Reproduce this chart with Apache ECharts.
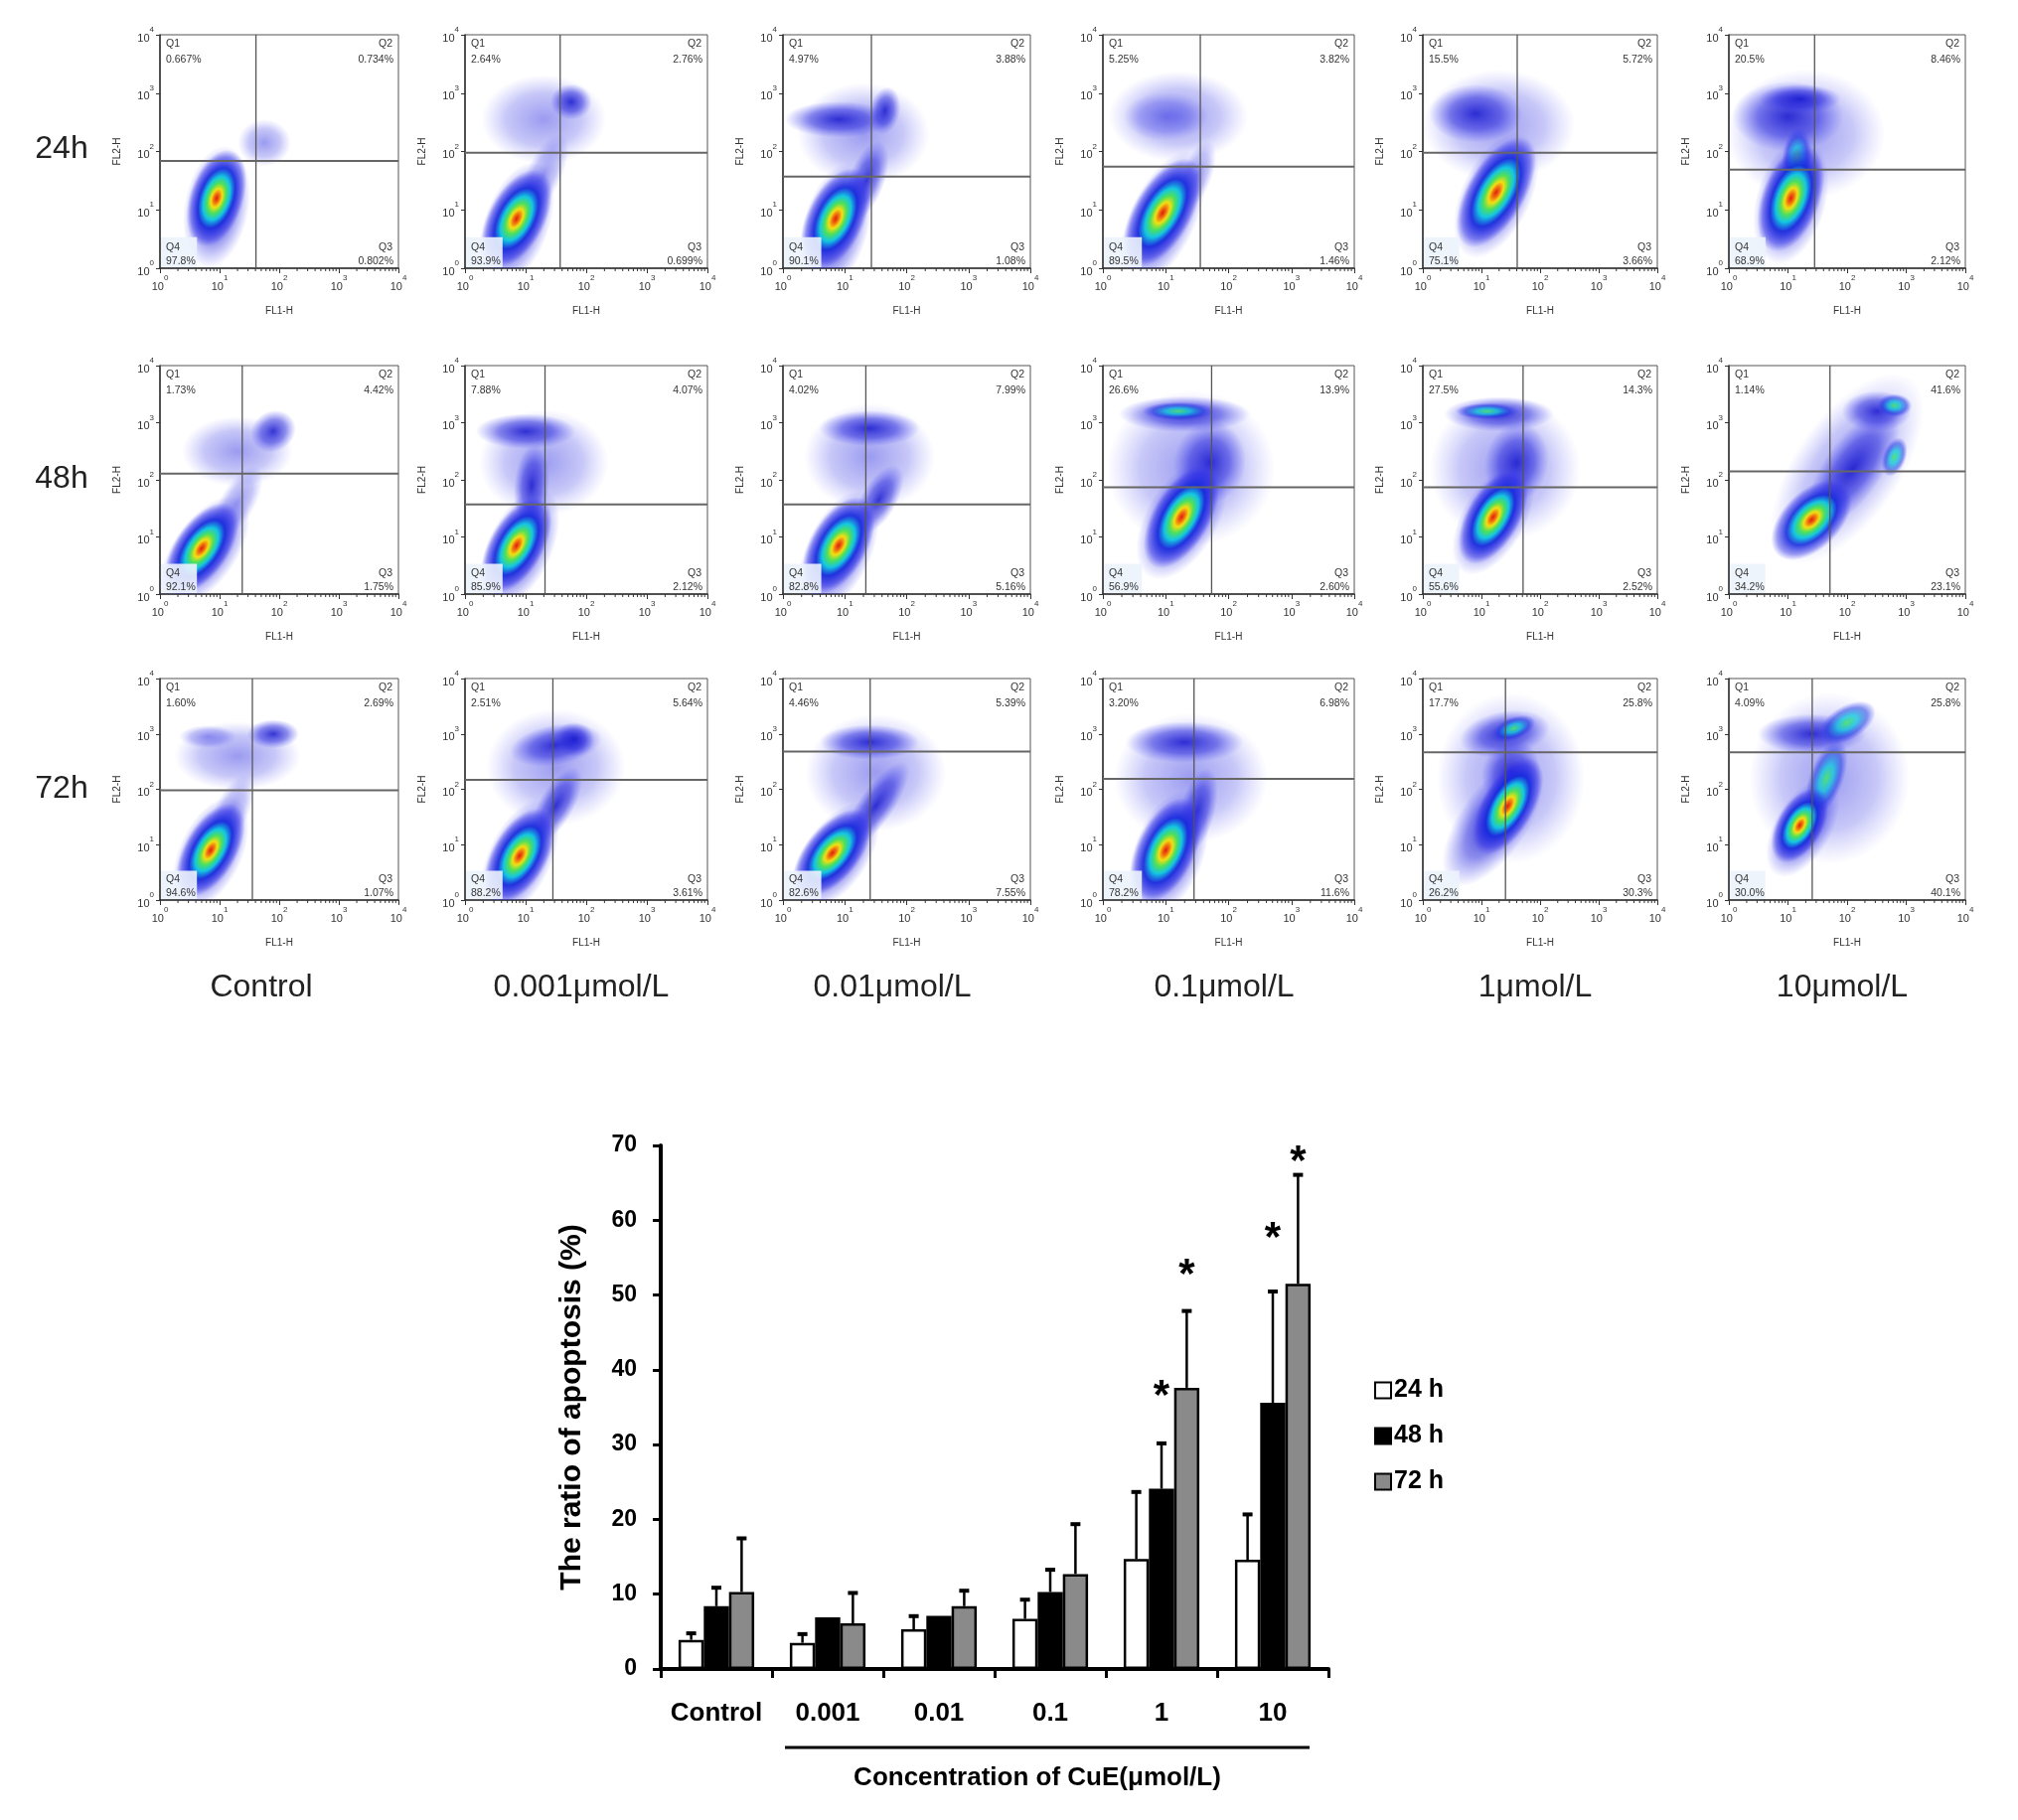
<!DOCTYPE html>
<html><head><meta charset="utf-8">
<script src="https://cdn.jsdelivr.net/npm/echarts@6/dist/echarts.min.js"></script>
<style>html,body{margin:0;padding:0;background:#fff}#c{width:2031px;height:1832px}</style>
</head><body><div id="c"></div>
<script>
// ---------------- DATA ----------------
const rowLabels = ['24h', '48h', '72h'];
const colLabels = ['Control', '0.001μmol/L', '0.01μmol/L', '0.1μmol/L', '1μmol/L', '10μmol/L'];
const decadeTicks = [0, 1, 2, 3, 4]; // 10^0 ... 10^4

// quadrant percentages [row][col]
const q1Pct = [['0.667%','2.64%','4.97%','5.25%','15.5%','20.5%'],
               ['1.73%','7.88%','4.02%','26.6%','27.5%','1.14%'],
               ['1.60%','2.51%','4.46%','3.20%','17.7%','4.09%']];
const q2Pct = [['0.734%','2.76%','3.88%','3.82%','5.72%','8.46%'],
               ['4.42%','4.07%','7.99%','13.9%','14.3%','41.6%'],
               ['2.69%','5.64%','5.39%','6.98%','25.8%','25.8%']];
const q3Pct = [['0.802%','0.699%','1.08%','1.46%','3.66%','2.12%'],
               ['1.75%','2.12%','5.16%','2.60%','2.52%','23.1%'],
               ['1.07%','3.61%','7.55%','11.6%','30.3%','40.1%']];
const q4Pct = [['97.8%','93.9%','90.1%','89.5%','75.1%','68.9%'],
               ['92.1%','85.9%','82.8%','56.9%','55.6%','34.2%'],
               ['94.6%','88.2%','82.6%','78.2%','26.2%','30.0%']];
// gate positions (log10 of FL1-H / FL2-H)
const gateX = [[1.61,1.57,1.43,1.55,1.61,1.45],[1.38,1.32,1.34,1.73,1.71,1.71],[1.55,1.45,1.41,1.45,1.41,1.41]];
const gateY = [[1.84,1.98,1.57,1.74,1.98,1.69],[2.11,1.57,1.57,1.87,1.87,2.15],[1.98,2.17,2.68,2.19,2.67,2.67]];

// cell populations: [log FL1, log FL2, spread a, spread b, tilt deg, density level]
const pops24 = [
  [[1.75,2.15,0.45,0.4,0,0],[0.95,1.05,1.05,0.55,80,1],[0.95,1.2,0.85,0.46,72,3]],
  [[1.3,2.55,1.05,0.75,0,0],[1.75,2.85,0.35,0.3,0,1],[1.3,1.6,0.75,0.3,65,0],[0.85,0.75,1.1,0.55,70,1],[0.85,0.85,0.9,0.48,62,3]],
  [[1.3,2.3,1.1,0.85,0,0],[0.9,2.55,0.9,0.3,0,1],[1.65,2.7,0.4,0.25,80,1],[1.35,1.5,0.7,0.3,70,1],[0.85,0.7,1.1,0.55,75,1],[0.85,0.85,0.9,0.48,65,3]],
  [[1.2,2.6,1.15,0.75,0,0],[1.0,2.6,0.7,0.4,0,0],[1.5,1.6,0.6,0.25,70,0],[0.95,0.85,1.2,0.55,65,1],[0.95,0.95,1.0,0.48,60,3]],
  [[1.3,2.45,1.3,0.95,0,0],[0.9,2.65,0.8,0.5,0,1],[1.25,1.25,1.15,0.6,65,1],[1.25,1.3,1.05,0.5,60,3]],
  [[1.3,2.3,1.35,1.1,0,0],[1.0,2.6,0.95,0.6,0,1],[1.2,2.9,0.7,0.25,0,1],[1.15,1.9,0.5,0.25,85,2],[1.05,1.15,1.1,0.6,75,1],[1.05,1.2,0.95,0.5,70,3]]
];
const pops48 = [
  [[1.3,2.5,0.95,0.6,0,0],[1.9,2.85,0.4,0.35,30,1],[1.3,1.6,0.7,0.3,60,0],[0.75,0.75,1.1,0.55,55,1],[0.7,0.8,0.9,0.46,55,3]],
  [[1.3,2.3,1.1,0.9,0,0],[1.0,2.85,0.85,0.3,0,1],[1.1,1.9,0.7,0.3,85,1],[0.9,0.8,1.1,0.55,65,1],[0.85,0.85,0.9,0.46,60,3]],
  [[1.4,2.4,1.1,0.9,0,0],[1.4,2.9,0.85,0.3,0,1],[1.55,1.65,0.65,0.3,60,1],[0.9,0.75,1.1,0.55,65,1],[0.9,0.85,0.9,0.48,60,3]],
  [[1.4,2.2,1.4,1.3,0,0],[1.7,2.3,0.7,0.6,80,1],[1.3,3.15,1.1,0.3,0,1],[1.2,3.2,0.6,0.15,0,2],[1.25,1.3,1.1,0.6,60,1],[1.25,1.35,0.95,0.48,60,3]],
  [[1.4,2.2,1.3,1.25,0,0],[1.6,2.3,0.7,0.55,80,1],[1.3,3.15,0.95,0.3,0,1],[1.1,3.2,0.55,0.14,0,2],[1.2,1.3,1.05,0.55,60,1],[1.2,1.35,0.9,0.46,60,3]],
  [[2.0,2.2,1.9,0.9,55,0],[2.1,2.2,1.2,0.5,55,1],[2.5,3.2,0.6,0.35,0,1],[2.8,3.3,0.3,0.2,0,2],[2.8,2.4,0.35,0.2,70,2],[1.4,1.3,0.85,0.5,45,3]]
];
const pops72 = [
  [[1.3,2.6,1.1,0.6,0,0],[1.9,3.0,0.45,0.25,0,1],[0.8,2.95,0.5,0.2,0,0],[1.2,1.6,0.7,0.3,65,0],[0.85,0.85,1.05,0.55,65,1],[0.85,0.9,0.9,0.46,60,3]],
  [[1.5,2.4,1.2,1.0,0,0],[1.5,2.8,0.8,0.35,10,1],[1.8,2.9,0.35,0.3,0,1],[1.5,1.7,0.75,0.3,60,1],[0.9,0.75,1.1,0.55,65,1],[0.9,0.8,0.9,0.48,60,3]],
  [[1.5,2.3,1.2,1.0,0,0],[1.4,2.85,0.85,0.3,0,1],[1.5,1.7,0.9,0.3,55,1],[0.85,0.8,1.05,0.55,55,1],[0.8,0.85,0.9,0.46,50,3]],
  [[1.4,2.2,1.3,1.1,0,0],[1.3,2.85,1.0,0.35,0,1],[1.5,1.6,0.75,0.3,75,1],[1.05,0.85,1.1,0.6,70,1],[1.0,0.9,0.95,0.5,65,3]],
  [[1.5,2.2,1.3,1.5,0,0],[1.4,3.0,0.8,0.4,10,1],[1.55,3.1,0.4,0.2,20,2],[1.5,2.3,0.6,0.5,70,1],[1.2,1.4,1.3,0.6,55,1],[1.45,1.7,0.95,0.46,60,3]],
  [[1.7,2.2,1.4,1.5,0,0],[1.4,3.0,0.95,0.35,0,1],[2.0,3.2,0.55,0.3,30,2],[1.65,2.2,0.7,0.3,70,2],[1.25,1.3,0.95,0.5,60,1],[1.2,1.35,0.72,0.4,60,3]]
];
const popsByRow = [pops24, pops48, pops72];

// bar chart
const barCats = ['Control', '0.001', '0.01', '0.1', '1', '10'];
const seriesNames = ['24 h', '48 h', '72 h'];
const h24 = [3.9, 3.5, 5.3, 6.7, 14.7, 14.6];
const h48 = [8.4, 6.9, 7.1, 10.3, 24.1, 35.6];
const h72 = [10.3, 6.1, 8.4, 12.7, 37.6, 51.5];
const sd24 = [1.0, 1.3, 1.9, 2.7, 9.1, 6.2];
const sd48 = [2.6, 0, 0, 3.1, 6.2, 15.0];
const sd72 = [7.3, 4.2, 2.2, 6.8, 10.4, 14.7];
const star48 = [null, null, null, null, 37.6, 58.7];
const star72 = [null, null, null, null, 53.8, 68.9];
const yTicks = {min: 0, max: 70, step: 10};

// ---------------- LAYOUT / STYLE ----------------
const FONT = "'Liberation Sans', Arial, Helvetica, sans-serif";
const rowTop = [35, 368, 683], rowBot = [270, 598, 906];
const colL = [161, 468, 788, 1110, 1432, 1740], colR = [401, 712, 1037, 1363, 1668, 1978];
const levelStops = [
  [[0,'rgba(45,45,225,0.48)'],[0.6,'rgba(55,55,230,0.28)'],[1,'rgba(90,90,250,0)']],
  [[0,'rgba(20,20,205,0.85)'],[0.55,'rgba(35,35,220,0.52)'],[1,'rgba(70,70,245,0)']],
  [[0,'rgba(80,225,110,0.95)'],[0.35,'rgba(20,200,225,0.8)'],[0.7,'rgba(30,60,225,0.55)'],[1,'rgba(60,60,250,0)']],
  [[0,'#e0200c'],[0.09,'#f06a10'],[0.19,'#f2df12'],[0.31,'#4ee05a'],[0.45,'#14c6e2'],[0.62,'rgba(20,40,220,0.88)'],[0.85,'rgba(40,40,230,0.45)'],[1,'rgba(60,60,245,0)']]
];
function grad(l) {
  return {type: 'radial', x: 0.5, y: 0.5, r: 0.5,
    colorStops: levelStops[l].map(s => ({offset: s[0], color: s[1]}))};
}
function popItem(params, api) {
  const c = api.coord([api.value(0), api.value(1)]);
  const s = api.size([1, 1]);
  const u = (s[0] + s[1]) / 2;
  const a = api.value(2), b = api.value(3);
  return {type: 'circle', shape: {cx: 0, cy: 0, r: b * u}, x: c[0], y: c[1],
    scaleX: a / b, scaleY: 1, rotation: api.value(4) * Math.PI / 180,
    style: {fill: grad(api.value(5))}, silent: true};
}
function gateRender(r, c) {
  return function (params, api) {
    const gx = api.value(0), gy = api.value(1);
    const p0 = api.coord([0, 0]), p4 = api.coord([4, 4]);
    const L = p0[0], B = p0[1], R = p4[0], T = p4[1];
    const vx = api.coord([gx, 0])[0], hy = api.coord([0, gy])[1];
    const bx = api.coord([0.62, 0.53]);
    const ch = [];
    ch.push({type: 'rect', shape: {x: L + 1, y: bx[1], width: bx[0] - L - 1, height: B - bx[1] - 1},
      style: {fill: 'rgba(236,243,252,0.9)'}});
    ch.push({type: 'line', shape: {x1: vx, y1: T, x2: vx, y2: B}, style: {stroke: '#555', lineWidth: 1.3}});
    ch.push({type: 'line', shape: {x1: L, y1: hy, x2: R, y2: hy}, style: {stroke: '#666', lineWidth: 2}});
    for (let d = 0; d < 4; d++) {
      for (let k = 2; k <= 9; k++) {
        const x = api.coord([d + Math.log10(k), 0])[0];
        ch.push({type: 'line', shape: {x1: x, y1: B, x2: x, y2: B + 3}, style: {stroke: '#333', lineWidth: 1}});
      }
    }
    const f = '10.5px ' + FONT;
    const t = (txt, x, y, al) => ({type: 'text', style: {text: txt, x: x, y: y, font: f, fill: '#333', align: al, verticalAlign: 'middle'}});
    ch.push(t('Q1', L + 6, T + 9, 'left'));
    ch.push(t(q1Pct[r][c], L + 6, T + 25, 'left'));
    ch.push(t('Q2', R - 20, T + 9, 'left'));
    ch.push(t(q2Pct[r][c], R - 5, T + 25, 'right'));
    ch.push(t('Q4', L + 6, B - 21, 'left'));
    ch.push(t(q4Pct[r][c], L + 6, B - 7, 'left'));
    ch.push(t('Q3', R - 20, B - 21, 'left'));
    ch.push(t(q3Pct[r][c], R - 5, B - 7, 'right'));
    return {type: 'group', children: ch};
  };
}
const supRich = {
  b: {fontSize: 11, fontFamily: FONT, color: '#333', verticalAlign: 'bottom', lineHeight: 18},
  s: {fontSize: 8, fontFamily: FONT, color: '#333', verticalAlign: 'top', lineHeight: 18}
};
const supFmt = v => '{b|10}{s|' + v + '}';

const grids = [], xAxes = [], yAxes = [], series = [];
for (let r = 0; r < 3; r++) {
  for (let c = 0; c < 6; c++) {
    const g = grids.length;
    grids.push({left: colL[c], top: rowTop[r], width: colR[c] - colL[c], height: rowBot[r] - rowTop[r],
      show: true, borderColor: '#555', borderWidth: 1, backgroundColor: 'transparent'});
    xAxes.push({gridIndex: g, type: 'value', min: decadeTicks[0], max: decadeTicks[4], interval: 1,
      axisLine: {show: true, onZero: false, lineStyle: {color: '#333', width: 1.5}},
      axisTick: {show: true, length: 5, lineStyle: {color: '#333'}},
      splitLine: {show: false},
      axisLabel: {formatter: supFmt, rich: supRich, margin: 6},
      name: 'FL1-H', nameLocation: 'middle', nameGap: 38,
      nameTextStyle: {fontSize: 10, fontFamily: FONT, color: '#333'}});
    yAxes.push({gridIndex: g, type: 'value', min: decadeTicks[0], max: decadeTicks[4], interval: 1,
      axisLine: {show: true, onZero: false, lineStyle: {color: '#333', width: 1.5}},
      axisTick: {show: true, length: 4, lineStyle: {color: '#333'}},
      splitLine: {show: false},
      axisLabel: {formatter: supFmt, rich: supRich, margin: 6},
      name: 'FL2-H', nameLocation: 'middle', nameGap: 38,
      nameTextStyle: {fontSize: 10, fontFamily: FONT, color: '#333'}});
    const pops = popsByRow[r][c].slice().sort((a, b) => a[5] - b[5]);
    series.push({type: 'custom', xAxisIndex: g, yAxisIndex: g, clip: true, silent: true, z: 1,
      renderItem: popItem, encode: {x: 0, y: 1}, data: pops});
    series.push({type: 'custom', xAxisIndex: g, yAxisIndex: g, clip: false, silent: true, z: 3,
      renderItem: gateRender(r, c), encode: {x: 0, y: 1}, data: [[gateX[r][c], gateY[r][c]]]});
  }
}

// bar chart grid
const BG = grids.length;
const BFONT = FONT;
grids.push({left: 665, top: 1153, width: 672, height: 527});
xAxes.push({gridIndex: BG, type: 'category', data: barCats,
  axisLine: {show: true, lineStyle: {color: '#000', width: 4}},
  axisTick: {show: true, interval: 0, length: 9, lineStyle: {color: '#000', width: 3}},
  axisLabel: {interval: 0, margin: 32, fontSize: 26, fontWeight: 'bold', fontFamily: BFONT, color: '#000'},
  splitLine: {show: false}});
yAxes.push({gridIndex: BG, type: 'value', min: yTicks.min, max: yTicks.max, interval: yTicks.step,
  axisLine: {show: true, lineStyle: {color: '#000', width: 4}},
  axisTick: {show: true, length: 8, lineStyle: {color: '#000', width: 3}},
  axisLabel: {margin: 24, fontSize: 23, fontWeight: 'bold', fontFamily: BFONT, color: '#000'},
  splitLine: {show: false},
  name: 'The ratio of apoptosis (%)', nameLocation: 'middle', nameGap: 74, nameRotate: 90,
  nameTextStyle: {fontSize: 30, fontWeight: 'bold', fontFamily: BFONT, color: '#000'}});
const barColors = ['#ffffff', '#000000', '#8a8a8a'];
const means = [h24, h48, h72], sds = [sd24, sd48, sd72], stars = [null, star48, star72];
const GAP = 0.32;
for (let k = 0; k < 3; k++) {
  series.push({type: 'bar', name: seriesNames[k], xAxisIndex: BG, yAxisIndex: BG, data: means[k],
    barGap: '0%', barCategoryGap: (GAP * 100) + '%', z: 2,
    itemStyle: {color: barColors[k], borderColor: '#000', borderWidth: 2.5}});
}
const errData = [], starData = [];
for (let k = 0; k < 3; k++) {
  for (let i = 0; i < barCats.length; i++) {
    errData.push([i, means[k][i], sds[k][i], k]);
    if (stars[k] && stars[k][i] != null) starData.push([i, stars[k][i], k]);
  }
}
series.push({type: 'custom', xAxisIndex: BG, yAxisIndex: BG, z: 4, silent: true, encode: {x: 0, y: 1},
  data: errData,
  renderItem: function (params, api) {
    const i = api.value(0), m = api.value(1), sd = api.value(2), k = api.value(3);
    if (!(sd > 0)) return null;
    const bw = api.size([1, 0])[0] * (1 - GAP) / 3;
    const base = api.coord([i, m]), top = api.coord([i, m + sd]);
    const x = base[0] + (k - 1) * bw;
    return {type: 'group', children: [
      {type: 'line', shape: {x1: x, y1: base[1], x2: x, y2: top[1]}, style: {stroke: '#000', lineWidth: 2.5}},
      {type: 'line', shape: {x1: x - 5, y1: top[1] + 1, x2: x + 5, y2: top[1] + 1}, style: {stroke: '#000', lineWidth: 4}}
    ]};
  }});
series.push({type: 'custom', xAxisIndex: BG, yAxisIndex: BG, z: 4, silent: true, encode: {x: 0, y: 1},
  data: starData,
  renderItem: function (params, api) {
    const i = api.value(0), v = api.value(1), k = api.value(2);
    const bw = api.size([1, 0])[0] * (1 - GAP) / 3;
    const p = api.coord([i, v]);
    return {type: 'text', style: {text: '*', x: p[0] + (k - 1) * bw, y: p[1] + 9,
      font: 'bold 42px ' + BFONT, fill: '#000', align: 'center', verticalAlign: 'middle'}};
  }});

const graphics = [];
const rowY = [150, 482, 794];
rowLabels.forEach((t, i) => graphics.push({type: 'text', x: 62, y: rowY[i],
  style: {text: t, font: '32px ' + FONT, fill: '#222', align: 'center', verticalAlign: 'middle'}}));
const colX = [263, 585, 898, 1232, 1545, 1854];
colLabels.forEach((t, i) => graphics.push({type: 'text', x: colX[i], y: 994,
  style: {text: t, font: '32px ' + FONT, fill: '#222', align: 'center', verticalAlign: 'middle'}}));
graphics.push({type: 'line', shape: {x1: 790, y1: 1759, x2: 1318, y2: 1759}, style: {stroke: '#000', lineWidth: 3}});
graphics.push({type: 'text', x: 1044, y: 1790,
  style: {text: 'Concentration of CuE(μmol/L)', font: 'bold 26px ' + BFONT, fill: '#000', align: 'center', verticalAlign: 'middle'}});

const chart = echarts.init(document.getElementById('c'), null, {renderer: 'canvas'});
chart.setOption({
  animation: false,
  backgroundColor: '#fff',
  grid: grids, xAxis: xAxes, yAxis: yAxes, series: series,
  legend: {data: seriesNames, orient: 'vertical', left: 1378, top: 1382, itemWidth: 16, itemHeight: 16,
    itemGap: 21, icon: 'rect', itemStyle: {borderColor: '#000', borderWidth: 2},
    textStyle: {fontSize: 25, fontWeight: 'bold', fontFamily: BFONT, color: '#000', padding: [0, 0, 0, -2]}},
  graphic: graphics
});
</script></body></html>
